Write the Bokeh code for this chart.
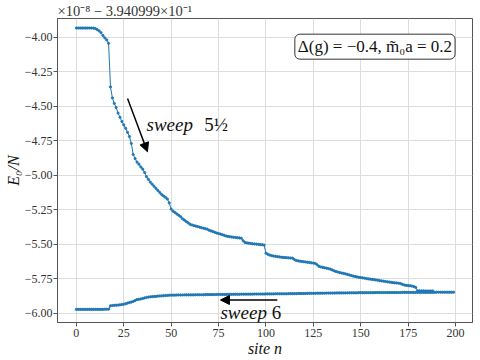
from bokeh.plotting import figure
from bokeh.models import Range1d, FixedTicker, Label, Arrow, NormalHead
from bokeh.embed import file_html
from bokeh.resources import INLINE

# ---- data ----
sites_top = list(range(189))
energy_top = [
    -3.934, -3.934, -3.934, -3.934, -3.934, -3.934, -3.934, -3.934, -3.934, -3.935,
    -3.938, -3.945, -3.955, -3.968, -3.988, -4.005, -4.020, -4.045, -4.360, -4.440,
    -4.480, -4.510, -4.550, -4.580, -4.610, -4.635, -4.660, -4.690, -4.720, -4.770,
    -4.850, -4.880, -4.905, -4.920, -4.940, -4.955, -4.980, -5.010, -5.030, -5.050,
    -5.065, -5.080, -5.095, -5.110, -5.125, -5.140, -5.150, -5.160, -5.172, -5.200,
    -5.245, -5.260, -5.270, -5.280, -5.290, -5.300, -5.315, -5.325, -5.335, -5.345,
    -5.355, -5.360, -5.365, -5.368, -5.372, -5.376, -5.380, -5.383, -5.387, -5.390,
    -5.398, -5.403, -5.408, -5.413, -5.418, -5.422, -5.426, -5.430, -5.435, -5.440,
    -5.443, -5.445, -5.447, -5.449, -5.451, -5.452, -5.454, -5.456, -5.475, -5.487,
    -5.490, -5.492, -5.494, -5.496, -5.497, -5.499, -5.500, -5.502, -5.503, -5.505,
    -5.564, -5.572, -5.578, -5.582, -5.585, -5.587, -5.589, -5.591, -5.593, -5.595,
    -5.596, -5.597, -5.598, -5.599, -5.600, -5.610, -5.617, -5.620, -5.622, -5.624,
    -5.626, -5.628, -5.630, -5.632, -5.634, -5.636, -5.638, -5.648, -5.660, -5.664,
    -5.667, -5.670, -5.673, -5.676, -5.680, -5.686, -5.692, -5.697, -5.701, -5.705,
    -5.708, -5.711, -5.714, -5.718, -5.722, -5.726, -5.730, -5.733, -5.736, -5.739,
    -5.741, -5.743, -5.745, -5.748, -5.750, -5.752, -5.754, -5.756, -5.758, -5.760,
    -5.763, -5.765, -5.767, -5.769, -5.771, -5.773, -5.775, -5.777, -5.779, -5.780,
    -5.782, -5.784, -5.790, -5.795, -5.797, -5.799, -5.800, -5.802, -5.806, -5.812,
    -5.836, -5.837, -5.837, -5.837, -5.838, -5.838, -5.838, -5.838, -5.838,
]

sites_bottom = list(range(200))
energy_bottom = [
    -5.971, -5.971, -5.971, -5.971, -5.971, -5.971, -5.971, -5.971, -5.971, -5.971,
    -5.971, -5.971, -5.971, -5.971, -5.971, -5.970, -5.970, -5.970, -5.945, -5.943,
    -5.942, -5.941, -5.940, -5.938, -5.936, -5.934, -5.930, -5.926, -5.922, -5.918,
    -5.914, -5.907, -5.900, -5.898, -5.896, -5.892, -5.888, -5.885, -5.882, -5.880,
    -5.879, -5.878, -5.877, -5.875, -5.874, -5.873, -5.872, -5.871, -5.870, -5.869,
    -5.868, -5.868, -5.868, -5.867, -5.867, -5.867, -5.867, -5.866, -5.866, -5.866,
    -5.866, -5.866, -5.866, -5.865, -5.865, -5.865, -5.865, -5.865, -5.864, -5.864,
    -5.864, -5.864, -5.864, -5.864, -5.863, -5.863, -5.863, -5.863, -5.863, -5.863,
    -5.862, -5.862, -5.862, -5.862, -5.862, -5.862, -5.862, -5.861, -5.861, -5.861,
    -5.861, -5.861, -5.861, -5.861, -5.860, -5.860, -5.860, -5.860, -5.860, -5.860,
    -5.859, -5.859, -5.859, -5.859, -5.859, -5.858, -5.858, -5.858, -5.858, -5.858,
    -5.858, -5.858, -5.857, -5.857, -5.857, -5.857, -5.857, -5.856, -5.856, -5.856,
    -5.856, -5.856, -5.855, -5.855, -5.855, -5.855, -5.855, -5.854, -5.854, -5.854,
    -5.854, -5.854, -5.853, -5.853, -5.853, -5.853, -5.853, -5.852, -5.852, -5.852,
    -5.852, -5.852, -5.852, -5.851, -5.851, -5.851, -5.851, -5.851, -5.851, -5.850,
    -5.850, -5.850, -5.850, -5.850, -5.850, -5.850, -5.850, -5.850, -5.849, -5.849,
    -5.849, -5.849, -5.849, -5.849, -5.849, -5.849, -5.849, -5.849, -5.849, -5.849,
    -5.849, -5.849, -5.848, -5.848, -5.848, -5.848, -5.848, -5.848, -5.848, -5.848,
    -5.848, -5.848, -5.848, -5.848, -5.848, -5.848, -5.848, -5.848, -5.848, -5.848,
    -5.847, -5.847, -5.847, -5.847, -5.847, -5.847, -5.847, -5.847, -5.847, -5.847,
]

x_ticks = [0, 25, 50, 75, 100, 125, 150, 175, 200]
y_ticks = [-4.00, -4.25, -4.50, -4.75, -5.00, -5.25, -5.50, -5.75, -6.00]
y_tick_labels = ["\u22124.00", "\u22124.25", "\u22124.50", "\u22124.75", "\u22125.00",
                 "\u22125.25", "\u22125.50", "\u22125.75", "\u22126.00"]
x_label = "site n"
y_label = "E\u2080/N"
offset_text = "\u00d710\u207b\u2078 \u2212 3.940999\u00d710\u207b\u00b9"
box_text = "\u0394(g) = \u22120.4, m\u0303\u2080a = 0.2"

BLUE = "#1f77b4"
FONT = "Liberation Serif"
INK = "#111111"

p = figure(width=480, height=360, output_backend="svg", toolbar_location=None,
           x_range=Range1d(-9.95, 208.95), y_range=Range1d(-6.066, -3.865),
           min_border_left=57, min_border_right=8, min_border_top=0, min_border_bottom=38)

# offset text of the y axis, shown as a left-aligned title above the frame
p.title.text = offset_text
p.title.align = "left"
p.title.text_font = FONT
p.title.text_font_size = "14.5px"
p.title.text_font_style = "normal"
p.title.text_color = "#333333"
p.title.standoff = 0
p.title.offset = 0

p.line(sites_top, energy_top, line_color=BLUE, line_width=1.0)
p.scatter(sites_top, energy_top, size=2.2, fill_color=BLUE, line_color=BLUE)
p.line(sites_bottom, energy_bottom, line_color=BLUE, line_width=1.0)
p.scatter(sites_bottom, energy_bottom, size=2.2, fill_color=BLUE, line_color=BLUE)

p.xaxis.ticker = FixedTicker(ticks=x_ticks)
p.yaxis.ticker = FixedTicker(ticks=y_ticks)
p.yaxis.major_label_overrides = {t: l for t, l in zip(y_ticks, y_tick_labels)}

for ax in (p.xaxis[0], p.yaxis[0]):
    ax.major_label_text_font = FONT
    ax.major_label_text_font_size = "12px"
    ax.major_label_text_color = "#333333"
    ax.axis_line_color = "#555555"
    ax.major_tick_line_color = "#555555"
    ax.major_tick_in = 0
    ax.major_tick_out = 4
    ax.minor_tick_line_color = None
    ax.major_label_standoff = 2
    ax.axis_label_text_font = FONT
    ax.axis_label_text_font_size = "16px"
    ax.axis_label_text_font_style = "italic"
    ax.axis_label_text_color = INK
    ax.axis_label_standoff = 0

p.yaxis.major_label_standoff = 1
p.xaxis.axis_label = x_label
p.yaxis.axis_label = y_label

p.outline_line_color = "#555555"
p.outline_line_width = 1
p.grid.grid_line_color = "#dddddd"
p.grid.grid_line_width = 1
p.background_fill_color = "white"
p.border_fill_color = "white"

p.add_layout(Label(x=157.5, y=-4.069, text=box_text, text_align="center", text_baseline="middle",
                   text_font=FONT, text_font_size="17px", text_color=INK,
                   background_fill_color="white", border_line_color="#333333", border_line_width=1,
                   padding=3, border_radius=5))

p.add_layout(Arrow(x_start=27, y_start=-4.445, x_end=37.5, y_end=-4.83, line_width=1.5,
                   line_color="black", end=NormalHead(size=9, fill_color="black", line_color="black")))
p.add_layout(Arrow(x_start=106, y_start=-5.903, x_end=76, y_end=-5.903, line_width=1.5,
                   line_color="black", end=NormalHead(size=9, fill_color="black", line_color="black")))

p.add_layout(Label(x=37, y=-4.635, text="sweep", text_align="left", text_baseline="middle",
                   text_font=FONT, text_font_size="19px", text_font_style="italic", text_color=INK))
p.add_layout(Label(x=67.5, y=-4.635, text="5\u00bd", text_align="left", text_baseline="middle",
                   text_font=FONT, text_font_size="19px", text_color=INK))
p.add_layout(Label(x=76, y=-5.993, text="sweep", text_align="left", text_baseline="middle",
                   text_font=FONT, text_font_size="19px", text_font_style="italic", text_color=INK))
p.add_layout(Label(x=103, y=-5.993, text="6", text_align="left", text_baseline="middle",
                   text_font=FONT, text_font_size="19px", text_color=INK))

open("out.html", "w").write(file_html(p, INLINE))
